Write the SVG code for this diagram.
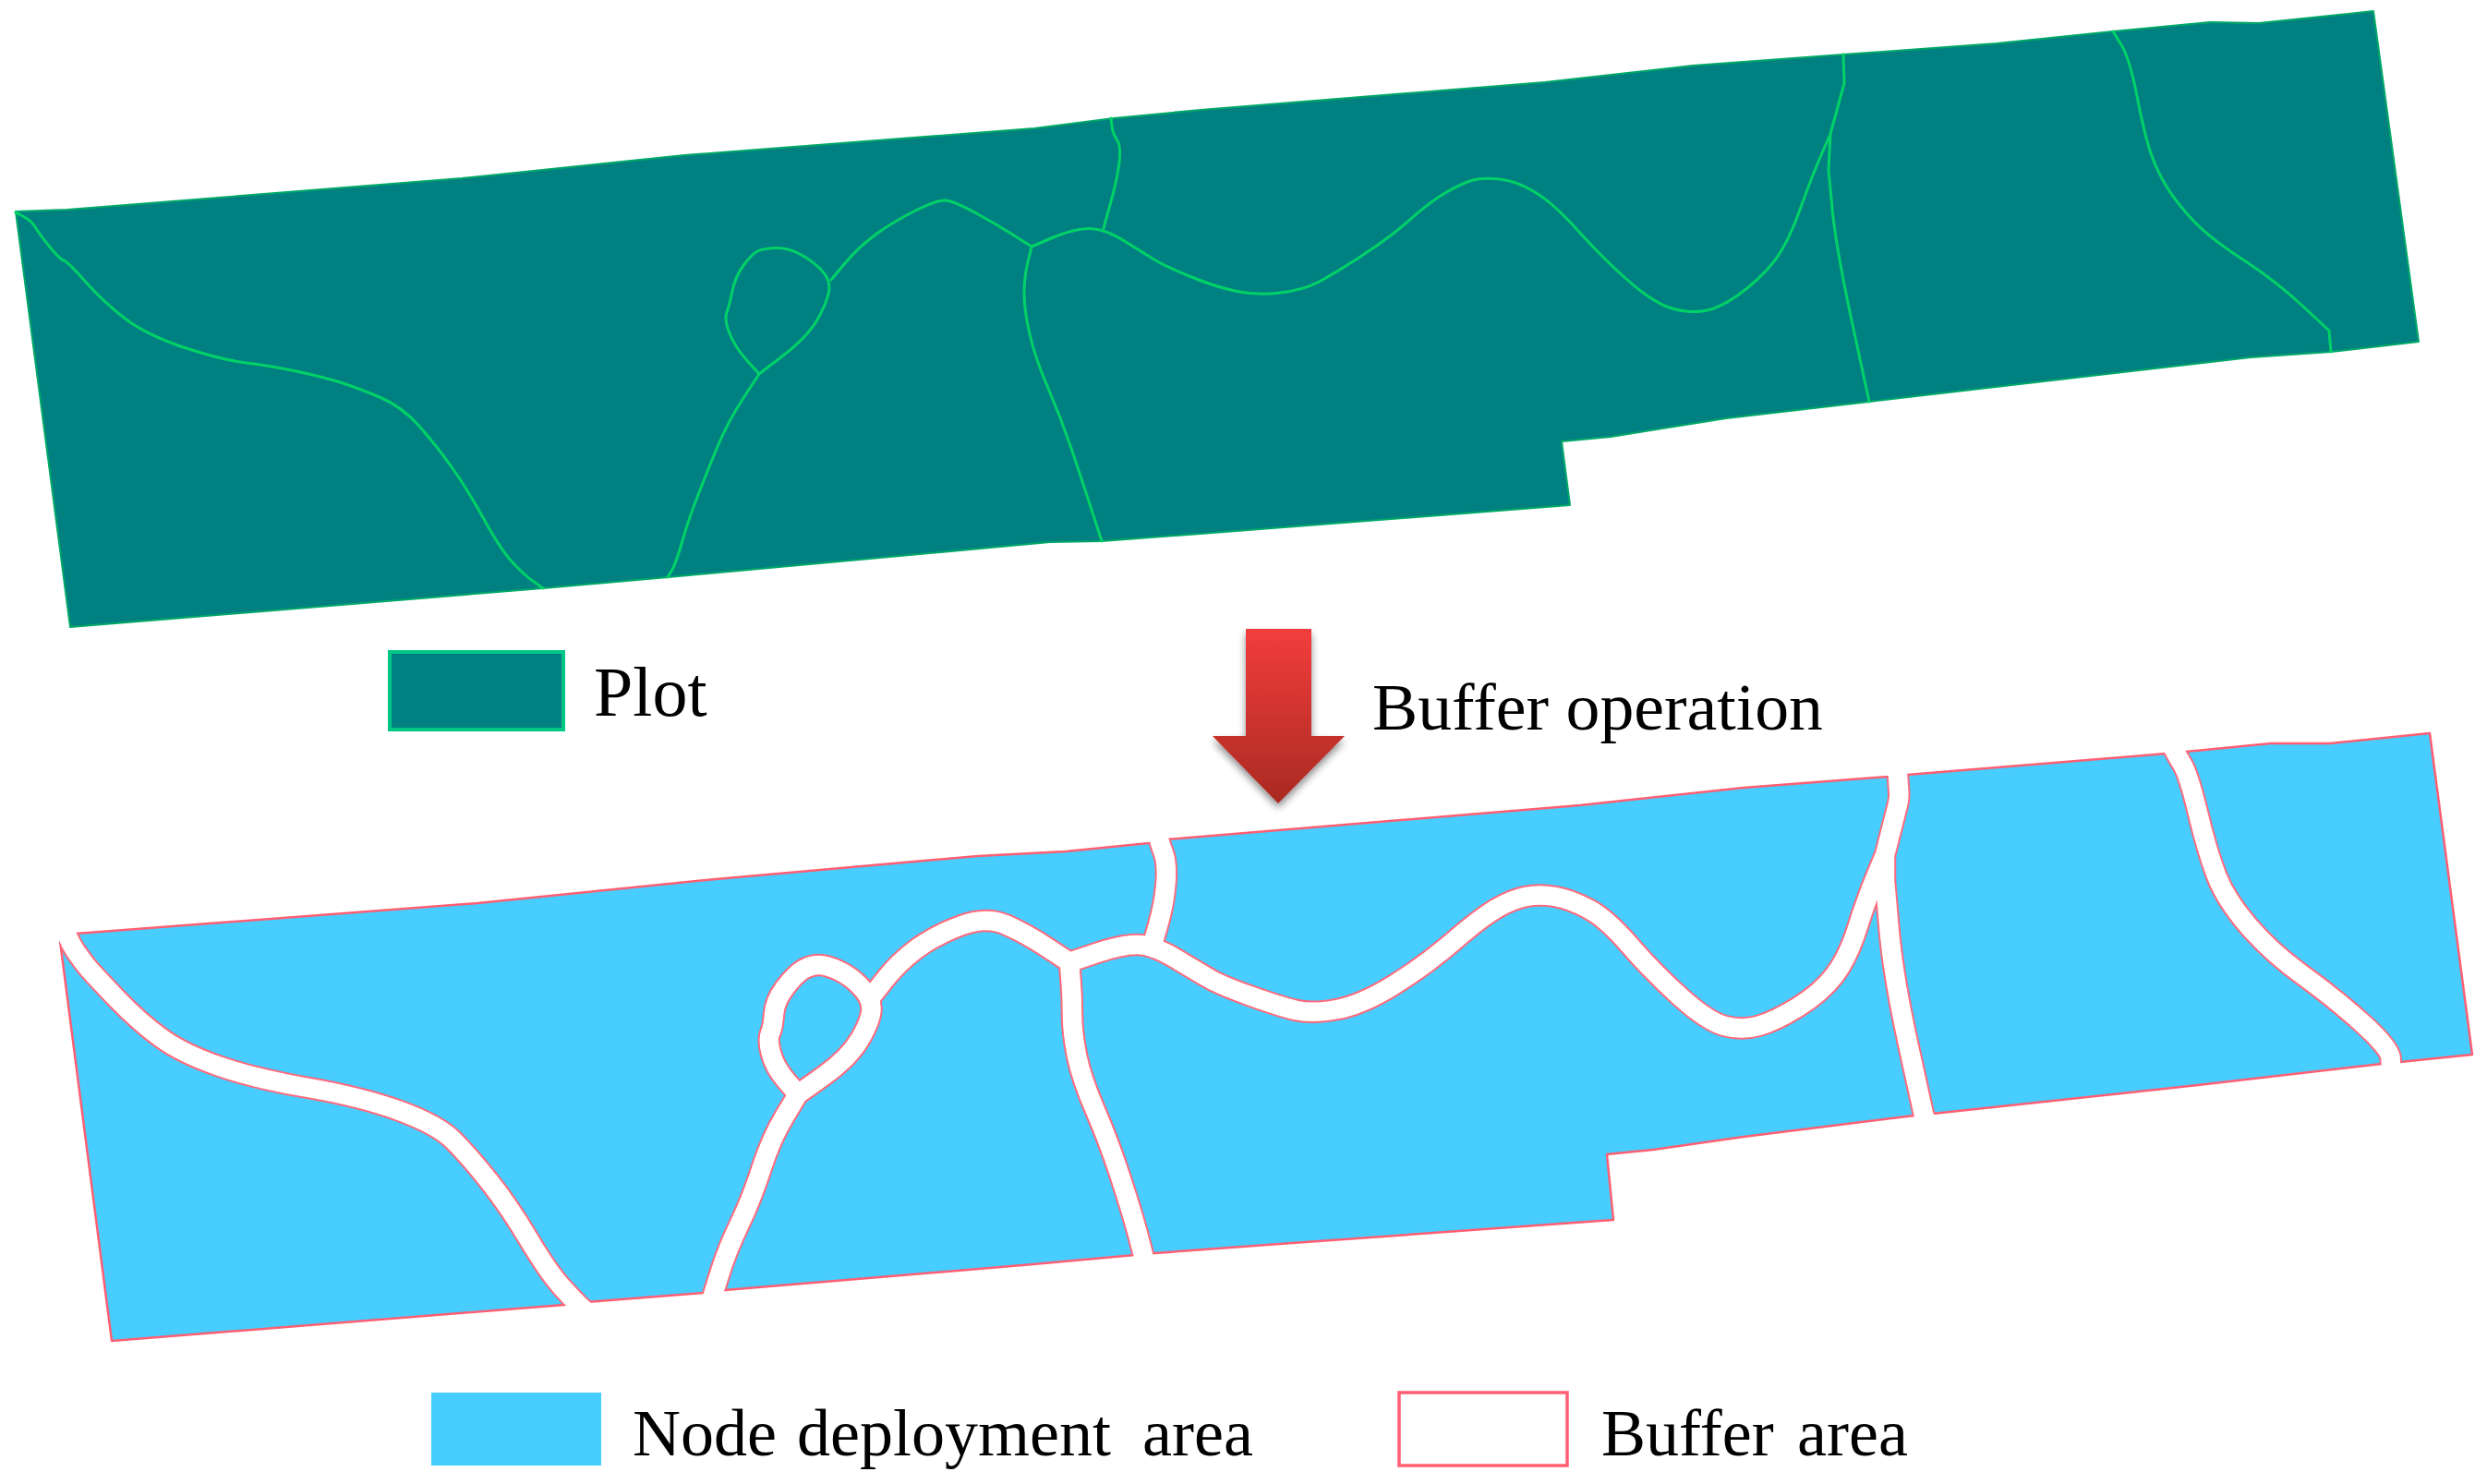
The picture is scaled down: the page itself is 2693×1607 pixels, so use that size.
<svg xmlns="http://www.w3.org/2000/svg" xmlns:xlink="http://www.w3.org/1999/xlink" width="2693" height="1607" viewBox="0 0 2693 1607">
<defs>
<style>
.plot{fill:#008080;stroke:#00a868;stroke-width:2;stroke-linejoin:round}
.bound{fill:none;stroke:#00d268;stroke-width:3;stroke-linejoin:round;stroke-linecap:round}
.area{fill:#47cdff;stroke:#ff5f72;stroke-width:2.5;stroke-linejoin:round}
.edge{fill:none;stroke:#ff6a7c;stroke-width:24.5;stroke-linejoin:round;stroke-linecap:butt}
.buf{fill:none;stroke:#fff;stroke-width:20.5;stroke-linejoin:round;stroke-linecap:butt}
.lbl{font-family:"Liberation Serif","Times New Roman",serif;font-size:72px;fill:#000}
</style>
<linearGradient id="arrowGrad" x1="0" y1="0" x2="0" y2="1">
<stop offset="0" stop-color="#f23d3d"/>
<stop offset="1" stop-color="#a92a22"/>
</linearGradient>
<filter id="arrowShadow" x="-30%" y="-10%" width="160%" height="125%">
<feGaussianBlur in="SourceAlpha" stdDeviation="4"/>
<feOffset dy="5"/>
<feComponentTransfer><feFuncA type="linear" slope="0.45"/></feComponentTransfer>
<feMerge><feMergeNode/><feMergeNode in="SourceGraphic"/></feMerge>
</filter>
<clipPath id="areaClip">
<path id="areaOutline" d="M65,1019 L82,1011 L517,978 L775,952 L1059,927 L1154,922 L1244,913 L1264,909 L1711,872 L1888,853 L2045,841 L2065,839 L2346,816 L2367,814 L2459,805 L2523,805 L2631,794 L2677,1142 L2599,1150 L2579,1152 L2380,1175 L2093,1206 L2073,1208 L1888,1231 L1790,1245 L1740,1250 L1747,1321 L1386,1347 L1251,1357 L1229,1359 L1119,1369 L785,1397 L762,1400 L635,1410 L611,1413 L121,1452 Z"/>
</clipPath>
<path id="bufferLines" d="M60,975 L66.5,996 Q73,1017 81.5,1029.5 T96.5,1049.5 T127,1082 T174.5,1124 T237,1154.5 T334,1178 T433,1203 T491,1235 T529.5,1279 T572.5,1342 T609,1394.5 T630.5,1416.5 L637,1422
M769,1413 L771,1406 Q773,1399 780.5,1375.5 T801,1325 T824.5,1265.5 T849.5,1209 L864,1185
M864,1185 L851.5,1170.5 Q839,1156 835,1141 T834,1119 T838,1098 T850,1069.5 T869.5,1050 T886.5,1045 T908,1051 T932,1068.5 T943.5,1091.5 T932,1124 T892,1165 L864,1185
M943,1080 L958,1061 Q973,1042 992.5,1027.5 T1040,1002.5 T1089.5,1001.5 T1134.5,1026.5 L1158,1042
M1158,1042 L1159.5,1061 Q1161,1080 1161,1099 T1166,1143 T1186,1202.5 T1214,1277 T1233.5,1342 L1240,1367
M1158,1042 L1186,1032.5 Q1214,1023 1231,1023 T1273,1038 T1310,1060 T1354,1078.5 T1403.5,1094 T1448,1093 T1509.5,1066.5 T1573.5,1019.5 T1620,984 T1652,971 T1684,971 T1720.5,984.5 T1765,1024 T1819.5,1079.5 T1867.5,1111 T1904,1111 T1947,1090.5 T1986.5,1056 T2011,1005.5 T2031,950 L2041,926
M1248,1023 L1254.5,1000 Q1261,977 1262.5,955.5 T1259.5,922.5 T1254,903 L1253,895
M2054,825 L2056,855 Q2057,863 2055,871 L2041,926
M2041,926 L2041,954 L2045.5,1005.5 Q2050,1057 2066.5,1132 L2083,1207 L2090,1223
M2350,804 L2353,810 Q2356,816 2363,827.5 T2380,880.5 T2400,948 T2434.5,1002.5 T2493.5,1056 T2557.5,1107.5 T2588.5,1145 L2590,1167"/>
</defs>
<rect width="2693" height="1607" fill="#fff"/>

<g id="plot-map">
<path class="plot" d="M17,229 L73,227 L500,193 L741,168 L1120,139 L1206,128 L1300,119 L1673,89 L1833,71 L1996,59 L2162,47 L2288,34 L2393,24 L2446,25 L2570,12 L2619,370 L2524,381 L2437,387 L2024,435 L1869,453 L1744,473 L1691,478 L1700,547 L1300,578 L1193,586 L1137,587 L724,625 L588,637 L76,679 Z"/>
<path class="bound" d="M17,230 L25.5,234.5 Q34,239 38.5,246.5 T54,267.5 T69,282 T92.5,305 T135.5,345 T200,376.5 T267,393 T323,402.5 T370,414.5 T411,430 T454.5,462 T491,508.5 T525,564 T555,609 T578,630 L588,637
M723,625 L727.5,617.5 Q732,610 738.5,587 T755.5,537 T777,483.5 T805,431 L822,405
M822,405 L809,390.5 Q796,376 790,361 T787,338 T793,315 T805,287.5 T820.5,272 T839.5,268.5 T865,274.5 T889,292 T897.5,316 T884.5,347 T848,385 L822,405
M900,303 L915,285 Q930,267 949.5,253 T992.5,227.5 T1024.5,217 T1054.5,229.5 T1096.5,254 L1117,267
M1117,267 L1113,283.5 Q1109,300 1109,318 T1115,362 T1135,420.5 T1160,485.5 T1182,552 L1193,586
M1117,267 L1139.5,257.5 Q1162,248 1178.5,247.5 T1217.5,261 T1250.5,281.5 T1289,299.5 T1339.5,315.5 T1386.5,317 T1426.5,306 T1473,278 T1526.5,238 T1566.5,208 T1595,195 T1624,194 T1662,208 T1708.5,249.5 T1762,303 T1807.5,333 T1843,337 T1882,319.5 T1919.5,285 T1948.5,228.5 T1972,168 L1982,145
M1195,247 L1202.5,220 Q1210,193 1212,175.5 T1209.5,151.5 T1204,136.5 L1203,128
M1996,59 L1997,90 L1982,145
M1982,145 L1980,184 L1984,226 Q1988,268 2006,351.5 L2024,435
M2288,34 L2297,48.5 Q2306,63 2314,104 T2328.5,164.5 T2346,202 T2375,239 T2428.5,281 T2493,331 L2522,358 L2524,381"/>
</g>

<g id="legend-plot">
<rect x="422" y="706" width="188" height="84" fill="#008080" stroke="#00c785" stroke-width="4"/>
<text class="lbl" x="643" y="775" style="font-size:76px">Plot</text>
</g>

<g id="buffer-operation">
<path d="M1349,681 H1420 V797 H1456 L1384,870 L1313,797 H1349 Z" fill="url(#arrowGrad)" filter="url(#arrowShadow)"/>
<text class="lbl" x="1486" y="790" textLength="488" lengthAdjust="spacingAndGlyphs">Buffer operation</text>
</g>

<g id="area-map">
<use xlink:href="#areaOutline" href="#areaOutline" class="area"/>
<g clip-path="url(#areaClip)"><use xlink:href="#bufferLines" href="#bufferLines" class="edge"/></g>
<use xlink:href="#bufferLines" href="#bufferLines" class="buf"/>
</g>

<g id="legend-area">
<rect x="467" y="1508" width="184" height="79" fill="#47cdff"/>
<text class="lbl" x="685" y="1576">Node <tspan x="863">deployment</tspan> <tspan x="1237">area</tspan></text>
</g>

<g id="legend-buffer">
<rect x="1515" y="1508" width="182" height="79" fill="#fff" stroke="#ff5f72" stroke-width="3.5"/>
<text class="lbl" x="1734" y="1576">Buffer <tspan x="1946">area</tspan></text>
</g>
</svg>
